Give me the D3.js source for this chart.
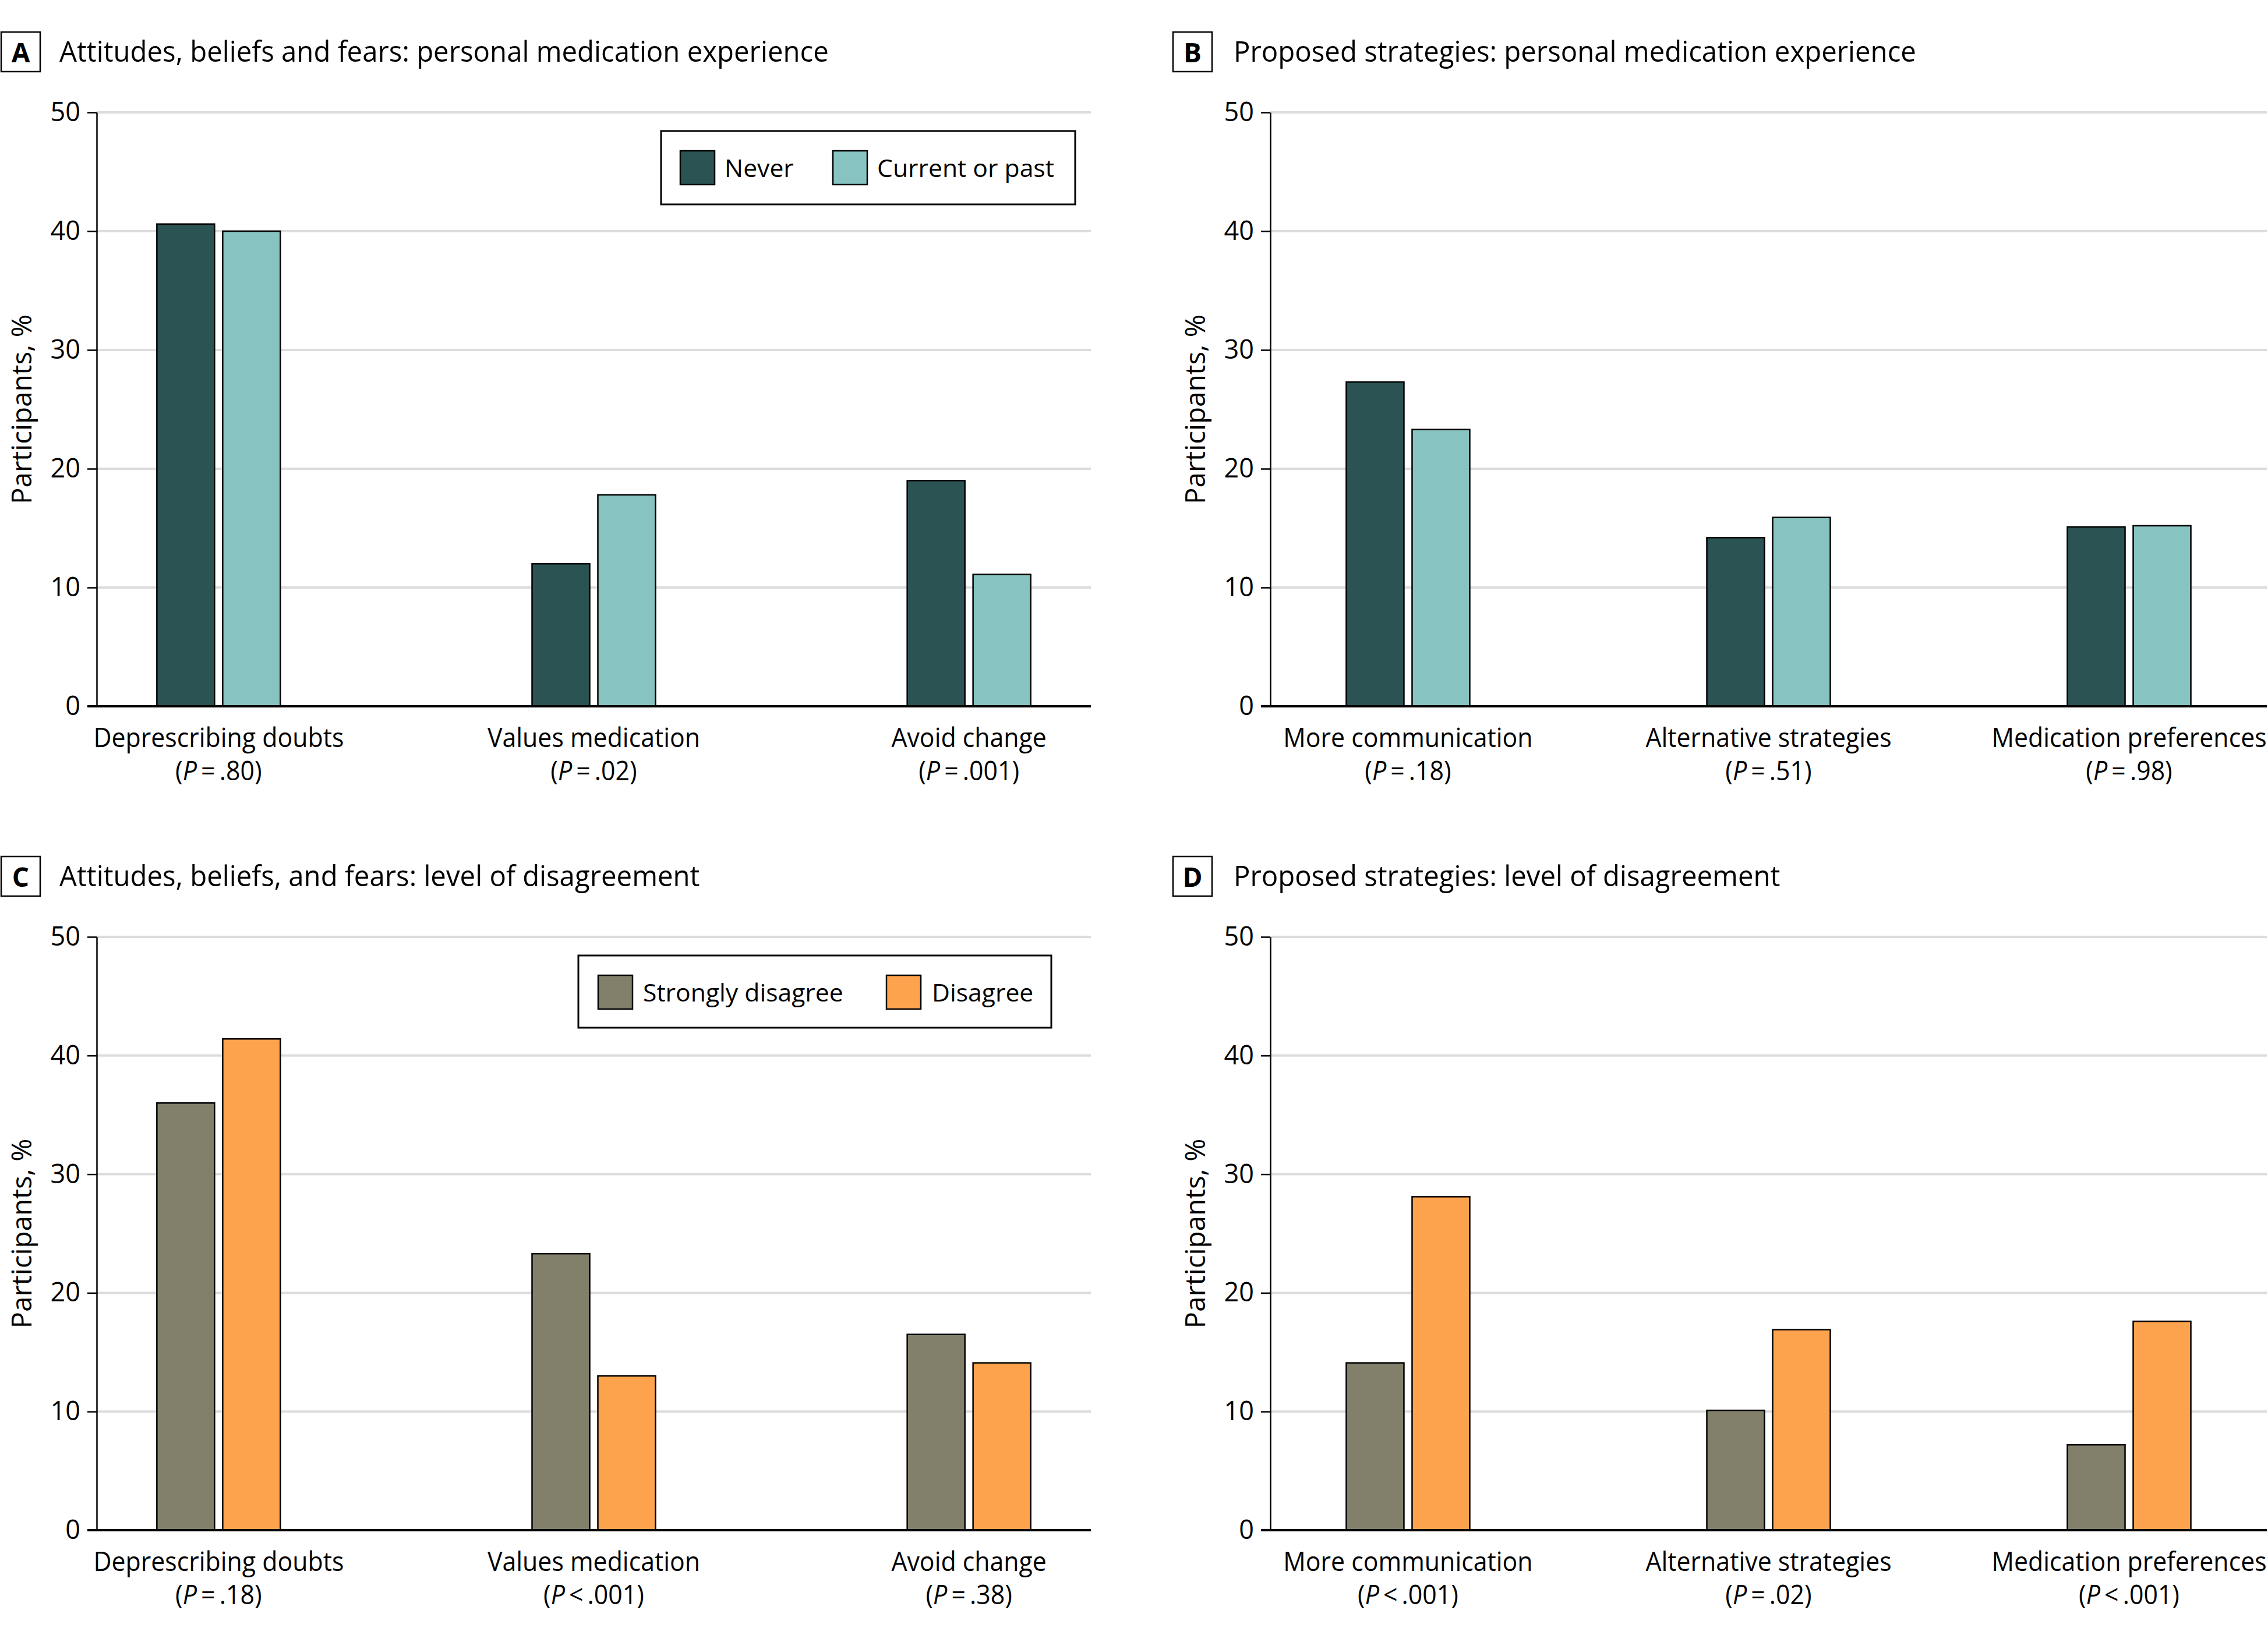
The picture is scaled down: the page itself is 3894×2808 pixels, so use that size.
<!DOCTYPE html>
<html><head><meta charset="utf-8">
<script src="https://cdn.jsdelivr.net/npm/d3@7"></script>
<style>
body{margin:0;background:#fff}
svg{display:block}
text{font-family:"Open Sans","Noto Sans",sans-serif;fill:#000}
</style></head><body>
<svg id="chart" width="3894" height="2808"></svg>
<script>
// ---- data ----
const yTicks = [0, 10, 20, 30, 40, 50];
const seriesAB = ["Never", "Current or past"];
const seriesCD = ["Strongly disagree", "Disagree"];
const catsAC = ["Deprescribing doubts", "Values medication", "Avoid change"];
const catsBD = ["More communication", "Alternative strategies", "Medication preferences"];
const pA = [["=", ".80"], ["=", ".02"], ["=", ".001"]];
const pB = [["=", ".18"], ["=", ".51"], ["=", ".98"]];
const pC = [["=", ".18"], ["<", ".001"], ["=", ".38"]];
const pD = [["<", ".001"], ["=", ".02"], ["<", ".001"]];
const neverA = [40.6, 12.0, 19.0];
const currentA = [40.0, 17.8, 11.1];
const neverB = [27.3, 14.2, 15.1];
const currentB = [23.3, 15.9, 15.2];
const stronglyC = [36.0, 23.3, 16.5];
const disagreeC = [41.4, 13.0, 14.1];
const stronglyD = [14.1, 10.1, 7.2];
const disagreeD = [28.1, 16.9, 17.6];
const titleA = "Attitudes, beliefs and fears: personal medication experience";
const titleB = "Proposed strategies: personal medication experience";
const titleC = "Attitudes, beliefs, and fears: level of disagreement";
const titleD = "Proposed strategies: level of disagreement";
const yTitle = "Participants, %";
const colorsAB = ["#2b5353", "#87c3c1"];
const colorsCD = ["#82806a", "#fea34d"];

// ---- layout ----
const svg = d3.select("#chart");
function measure(str, size, weight) {
  const t = svg.append("text").attr("font-size", size).attr("font-weight", weight || 400).text(str);
  const w = t.node().getComputedTextLength(); t.remove(); return w;
}
const F = {title: 50, cat: 46, leg: 42, y: 47, tick: 45};
const sxTitle = 1321 / measure(titleA, F.title);
const sxCat = 430 / measure("Deprescribing doubts", F.cat);
const sxLeg = 304 / measure("Current or past", F.leg);
const sxY = 326 / measure(yTitle, F.y);

function txt(g, x, y, size, sx, anchor, rot) {
  return g.append("text")
    .attr("transform", `translate(${x},${y})${rot ? " rotate(" + rot + ")" : ""} scale(${sx},1)`)
    .attr("font-size", size).attr("text-anchor", anchor || "start");
}

const panels = [
  {letter: "A", title: titleA, cats: catsAC, p: pA, series: seriesAB, colors: colorsAB, vals: [neverA, currentA],
   boxX: 2, textX: 102, left: 166, right: 1873, top: 193, bottom: 1213, pad: 0.325,
   legend: {x: 1135, y: 225, w: 711, h: 126, sw: [1168, 1430], tx: [1244, 1506]}},
  {letter: "B", title: titleB, cats: catsBD, p: pB, series: seriesAB, colors: colorsAB, vals: [neverB, currentB],
   boxX: 2014, textX: 2118, left: 2181, right: 3892, top: 193, bottom: 1213, pad: 0.382},
  {letter: "C", title: titleC, cats: catsAC, p: pC, series: seriesCD, colors: colorsCD, vals: [stronglyC, disagreeC],
   boxX: 2, textX: 102, left: 166, right: 1873, top: 1609, bottom: 2628, pad: 0.325,
   legend: {x: 993, y: 1641, w: 812, h: 124, sw: [1027, 1522], tx: [1104, 1600]}},
  {letter: "D", title: titleD, cats: catsBD, p: pD, series: seriesCD, colors: colorsCD, vals: [stronglyD, disagreeD],
   boxX: 2014, textX: 2118, left: 2181, right: 3892, top: 1609, bottom: 2628, pad: 0.382}
];

panels.forEach(P => {
  const g = svg.append("g");
  const y = d3.scaleLinear().domain([0, 50]).range([P.bottom, P.top]);
  const x = d3.scalePoint().domain(P.cats).range([P.left, P.right]).padding(P.pad);
  const barW = 99, gap = 14;

  // panel heading
  const tTop = P.top - 138;
  g.append("rect").attr("x", P.boxX).attr("y", tTop).attr("width", 67).attr("height", 68)
    .attr("fill", "#fff").attr("stroke", "#000").attr("stroke-width", 2.5);
  g.append("text").attr("x", P.boxX + 33.5).attr("y", tTop + 52).attr("text-anchor", "middle")
    .attr("font-size", 46).attr("font-weight", 700).text(P.letter);
  txt(g, P.textX, tTop + 51, F.title, sxTitle).text(P.title);

  // gridlines
  g.append("g").selectAll("line").data(yTicks.filter(d => d > 0)).join("line")
    .attr("x1", P.left).attr("x2", P.right).attr("y1", d => y(d)).attr("y2", d => y(d))
    .attr("stroke", "#dcdcdc").attr("stroke-width", 4);

  // y axis
  const ax = g.append("g").attr("transform", `translate(${P.left},0)`)
    .call(d3.axisLeft(y).tickValues(yTicks).tickSize(16).tickSizeOuter(0).tickPadding(12));
  ax.select(".domain").attr("stroke", "#000").attr("stroke-width", 2.5);
  ax.selectAll(".tick line").attr("stroke", "#000").attr("stroke-width", 2.5);
  ax.selectAll(".tick text").attr("font-size", F.tick).attr("font-family", '"Open Sans","Noto Sans",sans-serif').attr("fill", "#000");

  // y title
  txt(g, P.left - 112, (P.top + P.bottom) / 2, F.y, sxY, "middle", -90).text(yTitle);

  // bars
  P.vals.forEach((arr, si) => {
    g.append("g").selectAll("rect").data(arr).join("rect")
      .attr("x", (d, i) => x(P.cats[i]) + (si === 0 ? -gap / 2 - barW : gap / 2))
      .attr("y", d => y(d)).attr("width", barW).attr("height", d => y(0) - y(d))
      .attr("fill", P.colors[si]).attr("stroke", "#000").attr("stroke-width", 2.5);
  });

  // x axis line
  g.append("line").attr("x1", P.left - 16).attr("x2", P.right).attr("y1", y(0)).attr("y2", y(0))
    .attr("stroke", "#000").attr("stroke-width", 4);

  // category labels
  P.cats.forEach((c, i) => {
    txt(g, x(c), P.bottom + 70, F.cat, sxCat, "middle").text(c);
    const t = txt(g, x(c), P.bottom + 127, F.cat, sxCat, "middle");
    t.append("tspan").text("(");
    t.append("tspan").attr("font-style", "italic").text("P");
    t.append("tspan").text("\u2009" + P.p[i][0] + "\u2009" + P.p[i][1] + ")");
  });

  // legend
  if (P.legend) {
    const L = P.legend;
    g.append("rect").attr("x", L.x).attr("y", L.y).attr("width", L.w).attr("height", L.h)
      .attr("fill", "#fff").attr("stroke", "#000").attr("stroke-width", 3);
    P.series.forEach((s, si) => {
      g.append("rect").attr("x", L.sw[si]).attr("y", L.y + 34).attr("width", 59).attr("height", 58)
        .attr("fill", P.colors[si]).attr("stroke", "#000").attr("stroke-width", 2.5);
      txt(g, L.tx[si], L.y + 79, F.leg, sxLeg).text(s);
    });
  }
});
</script>
</body></html>
